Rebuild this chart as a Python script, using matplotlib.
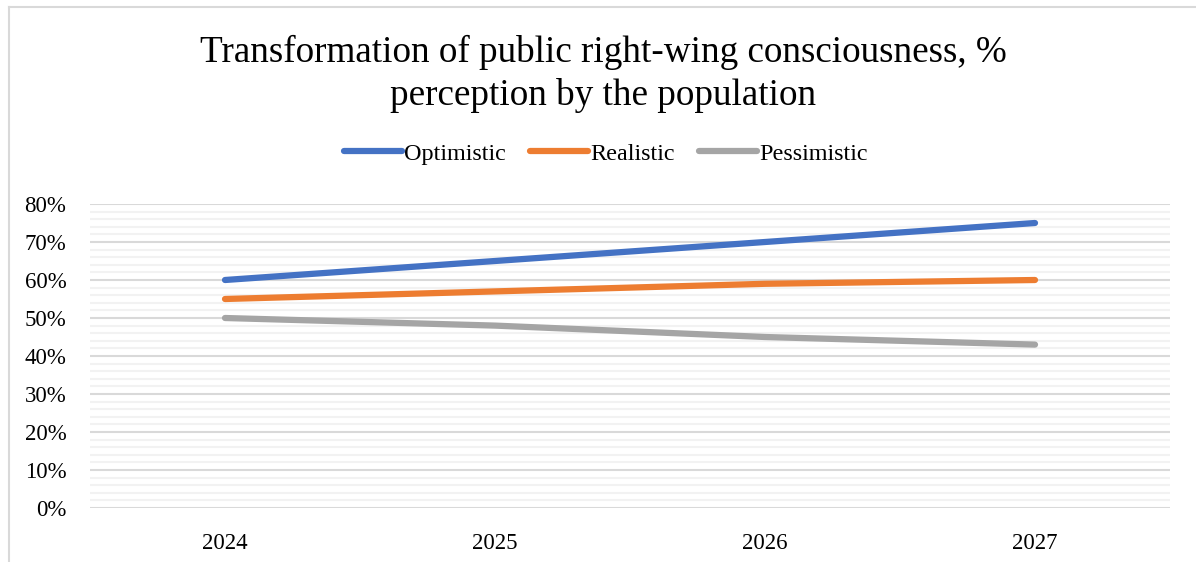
import matplotlib.pyplot as plt
from matplotlib.ticker import MultipleLocator, PercentFormatter
from matplotlib.lines import Line2D

years = ['2024', '2025', '2026', '2027']
optimistic = [60, 65, 70, 75]
realistic = [55, 57, 59, 60]
pessimistic = [50, 48, 45, 43]

series = [('Optimistic', optimistic, '#4472c4'),
          ('Realistic', realistic, '#ed7d31'),
          ('Pessimistic', pessimistic, '#a5a5a5')]

plt.rcParams['font.family'] = ['Liberation Serif', 'DejaVu Serif']

W, H = 1196, 562
fig = plt.figure(figsize=(W / 100, H / 100), dpi=100)
ax = fig.add_axes([90 / W, 1 - 508 / H, (1170 - 90) / W, (508 - 204) / H])

# outer chart frame (left and top edges visible)
fig.add_artist(Line2D([8.5 / W, 8.5 / W], [0, 1 - 6.5 / H], transform=fig.transFigure,
                      color='#d9d9d9', lw=1.5))
fig.add_artist(Line2D([8.5 / W, 1], [1 - 6.5 / H, 1 - 6.5 / H], transform=fig.transFigure,
                      color='#d9d9d9', lw=1.5))

x = range(len(years))
for name, vals, col in series:
    ax.plot(x, vals, color=col, lw=4.5, solid_capstyle='round', label=name, zorder=3)

ax.set_xlim(-0.5, len(years) - 0.5)
ax.set_ylim(0, 80)
ax.set_xticks(list(x))
ax.set_xticklabels(years)
ax.yaxis.set_major_locator(MultipleLocator(10))
ax.yaxis.set_minor_locator(MultipleLocator(2))
ax.yaxis.set_major_formatter(PercentFormatter(decimals=0))
ax.grid(axis='y', which='major', color='#d9d9d9', lw=1.5)
ax.grid(axis='y', which='minor', color='#f2f2f2', lw=1.5)
ax.set_axisbelow(True)
for s in ax.spines.values():
    s.set_visible(False)
ax.tick_params(axis='both', which='both', length=0, labelsize=16.5, colors='#000000')
ax.tick_params(axis='x', pad=18)
ax.tick_params(axis='y', pad=17)

fig.text(603 / W, 1 - 74 / H, 'Transformation of public right-wing consciousness, %\nperception by the population',
         ha='center', va='center', fontsize=26.7, linespacing=1.32)

fig.legend(loc='center', bbox_to_anchor=(606 / W, 1 - 154 / H), ncol=3, frameon=False,
           fontsize=17.4, handlelength=2.4, handletextpad=0.1, columnspacing=1.0)

fig.savefig('out.png', dpi=100)
